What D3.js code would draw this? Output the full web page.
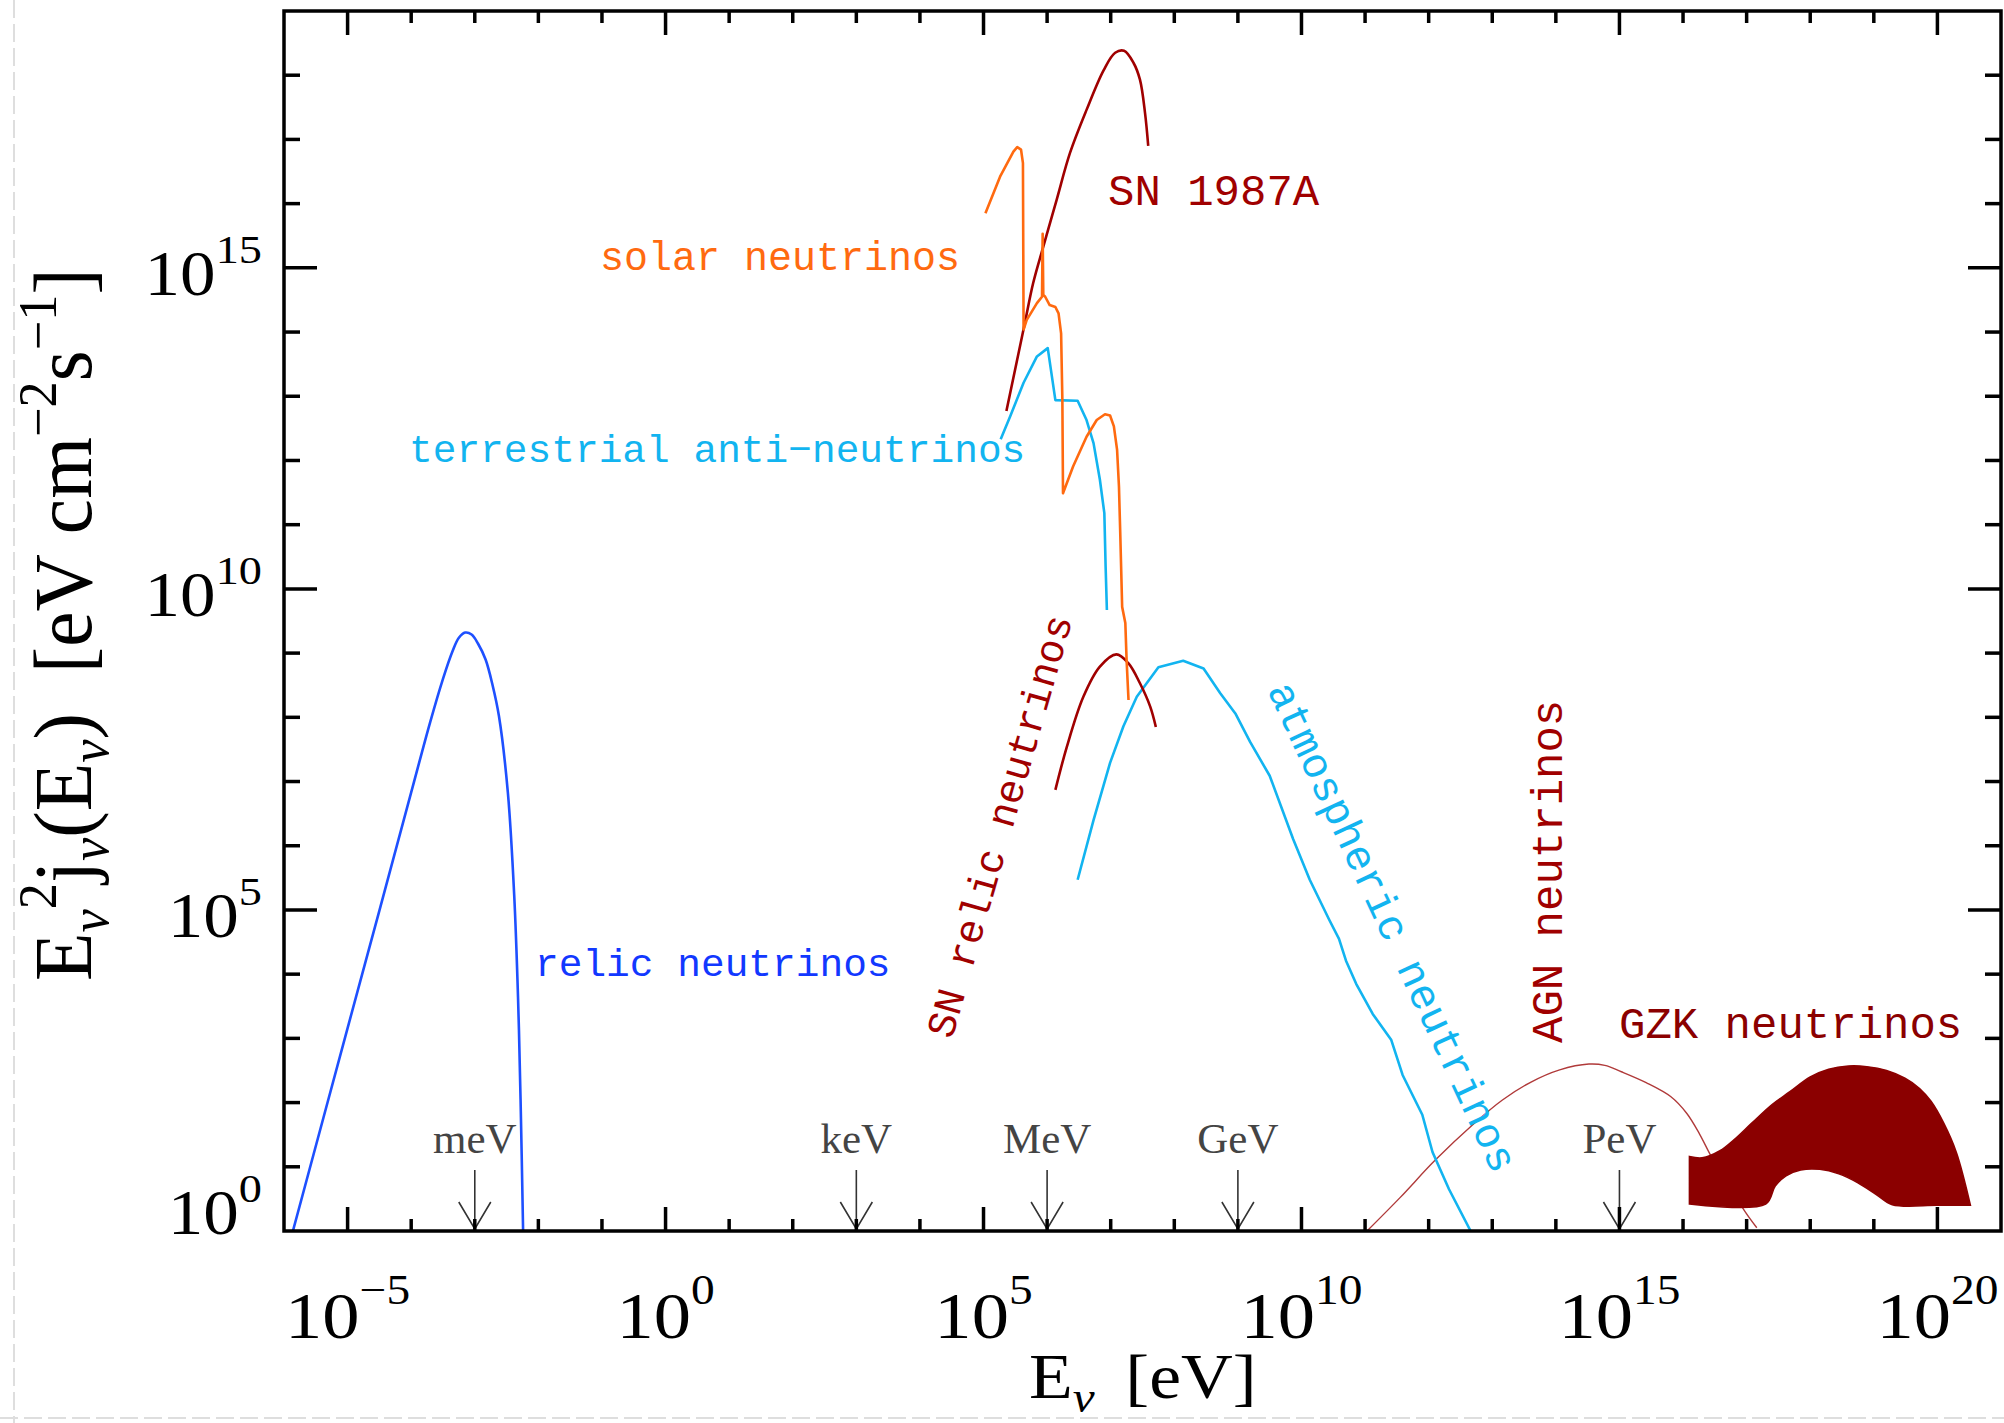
<!DOCTYPE html>
<html><head><meta charset="utf-8">
<script src="https://cdn.jsdelivr.net/npm/d3@7"></script>
<style>html,body{margin:0;padding:0;background:#fff}svg{display:block}</style>
</head><body>
<svg id="chart" width="2004" height="1423"></svg>
<script>
// ---- data: [log10(E_nu / eV), log10(E^2 j / eV cm^-2 s^-1)] ----
const relicNu = [[-5.86,0],[-5.0,3.16],[-4.5,4.99],[-4.0,6.83],[-3.7,7.93],[-3.5,8.6],[-3.35,9.03],[-3.25,9.24],[-3.15,9.32],[-3.05,9.29],[-2.95,9.15],[-2.83,8.90],[-2.72,8.50],[-2.62,8.02],[-2.48,6.83],[-2.38,5.23],[-2.32,3.64],[-2.28,2.05],[-2.24,0]];
const solarNu = [[5.03,15.85],[5.26,16.42],[5.47,16.81],[5.53,16.88],[5.59,16.84],[5.62,16.63],[5.63,14.04],[5.68,14.19],[5.84,14.45],[5.92,14.55],[5.93,15.53],[5.94,14.58],[5.97,14.55],[6.04,14.42],[6.13,14.39],[6.18,14.29],[6.22,13.98],[6.24,12.94],[6.25,11.49],[6.41,11.91],[6.62,12.37],[6.78,12.63],[6.91,12.72],[6.99,12.70],[7.05,12.53],[7.10,12.17],[7.13,11.59],[7.15,10.87],[7.18,9.72],[7.23,9.47],[7.25,8.89],[7.28,8.27]];
const sn1987A = [[5.36,12.77],[5.65,14.14],[5.78,14.76],[5.94,15.33],[6.15,16.06],[6.36,16.79],[6.62,17.46],[6.89,18.08],[7.07,18.35],[7.21,18.38],[7.36,18.19],[7.46,17.93],[7.54,17.41],[7.59,16.90]];
const terrestrialNu = [[5.27,12.33],[5.42,12.69],[5.63,13.21],[5.84,13.62],[6.01,13.75],[6.13,12.94],[6.48,12.93],[6.62,12.63],[6.73,12.27],[6.83,11.70],[6.90,11.18],[6.92,10.35],[6.94,9.67]];
const snRelicNu = [[6.13,6.87],[6.31,7.54],[6.57,8.32],[6.83,8.79],[7.09,8.98],[7.28,8.84],[7.46,8.53],[7.62,8.17],[7.71,7.85]];
const atmosphericNu = [[6.48,5.47],[6.73,6.40],[6.99,7.29],[7.20,7.86],[7.41,8.32],[7.75,8.78],[8.14,8.88],[8.46,8.76],[8.72,8.38],[8.96,8.06],[9.19,7.62],[9.50,7.09],[9.87,6.10],[10.13,5.47],[10.44,4.84],[10.59,4.55],[10.70,4.21],[10.86,3.85],[11.12,3.38],[11.41,2.98],[11.59,2.43],[11.90,1.81],[12.06,1.23],[12.32,0.65],[12.66,0]];
const agnNu = [[11.03,0],[11.55,0.52],[12.10,1.10],[12.71,1.67],[13.16,2.04],[13.61,2.32],[14.06,2.51],[14.52,2.60],[14.77,2.58],[15.03,2.48],[15.42,2.31],[15.81,2.09],[16.06,1.83],[16.26,1.51],[16.45,1.15],[16.71,0.73],[16.97,0.31],[17.16,0.05]];
const gzkUpper = [[16.10,1.16],[16.30,1.14],[16.58,1.25],[16.80,1.42],[17.08,1.68],[17.40,1.97],[17.68,2.17],[18.00,2.40],[18.29,2.52],[18.60,2.57],[18.89,2.56],[19.20,2.50],[19.49,2.38],[19.72,2.22],[19.90,2.02],[20.10,1.68],[20.30,1.22],[20.52,0.40]];
const gzkLower = [[20.52,0.40],[20.00,0.40],[19.29,0.41],[19.05,0.56],[18.75,0.75],[18.45,0.89],[18.15,0.96],[17.85,0.95],[17.62,0.86],[17.45,0.70],[17.30,0.42],[16.10,0.42]];
const unitMarks = ["meV","keV","MeV","GeV","PeV"];
const unitEnergies = [1e-3,1e3,1e6,1e9,1e15];
const xMajorExps = [-5,0,5,10,15,20];
const yMajorExps = [0,5,10,15];

// ---- layout ----
const svg = d3.select("#chart");
const L=284, R=2001, T=11, B=1231;
const x = d3.scaleLog().domain([1e-6,1e21]).range([L,R]);
const y = d3.scaleLog().domain([1,1e19]).range([B,T]);
const P = d => [x(Math.pow(10,d[0])), y(Math.pow(10,d[1]))];
const line = d3.line().x(d=>P(d)[0]).y(d=>P(d)[1]);

// scan artefacts of the original (faint dashed border lines)
svg.append("line").attr("x1",14).attr("x2",14).attr("y1",0).attr("y2",1423)
  .attr("stroke","#dedede").attr("stroke-width",2).attr("stroke-dasharray","18,6");
svg.append("line").attr("x1",0).attr("x2",2004).attr("y1",1418).attr("y2",1418)
  .attr("stroke","#dedede").attr("stroke-width",2).attr("stroke-dasharray","18,6");

svg.append("clipPath").attr("id","clip").append("rect")
  .attr("x",L).attr("y",T).attr("width",R-L).attr("height",B-T);
const g = svg.append("g").attr("clip-path","url(#clip)");

// AGN curve first (it runs behind the GZK band)
g.append("path").datum(agnNu).attr("d", line.curve(d3.curveCatmullRom))
  .attr("fill","none").attr("stroke","#b03a3a").attr("stroke-width",1.4);

// GZK band (smooth upper and lower edges, straight ends)
const smooth = d3.line().x(d=>P(d)[0]).y(d=>P(d)[1]).curve(d3.curveCatmullRom);
const gzkPath = smooth(gzkUpper) + "L" + smooth(gzkLower).slice(1) + "Z";
g.append("path").attr("d", gzkPath)
  .attr("fill","#8b0000").attr("stroke","#8b0000").attr("stroke-width",1.5);

// curves
const curves = [
  {data: atmosphericNu, color:"#12b4f0", w:2.6, curve:d3.curveLinear},
  {data: snRelicNu, color:"#a00000", w:2.6, curve:d3.curveCatmullRom},
  {data: terrestrialNu, color:"#12b4f0", w:2.6, curve:d3.curveLinear},
  {data: sn1987A, color:"#a00000", w:2.6, curve:d3.curveCatmullRom},
  {data: solarNu, color:"#ff6a10", w:2.6, curve:d3.curveLinear},
  {data: relicNu, color:"#1e50ff", w:2.6, curve:d3.curveCatmullRom}
];
curves.forEach(c=>{
  g.append("path").datum(c.data).attr("d", line.curve(c.curve))
   .attr("fill","none").attr("stroke",c.color).attr("stroke-width",c.w)
   .attr("stroke-linejoin","round");
});

// unit arrows
unitMarks.forEach((u,i)=>{
  const ex = x(unitEnergies[i]);
  const ga = svg.append("g").attr("stroke","#333").attr("stroke-width",1.6).attr("fill","none");
  ga.append("line").attr("x1",ex).attr("x2",ex).attr("y1",1170).attr("y2",B-2);
  ga.append("polyline").attr("points",`${ex-16},${B-29} ${ex},${B-2} ${ex+16},${B-29}`);
  svg.append("text").attr("x",ex).attr("y",1153).attr("text-anchor","middle")
    .attr("font-family","Liberation Serif").attr("font-size",43).attr("fill","#444").text(u);
});

// frame and ticks
const fr = svg.append("g").attr("stroke","#000").attr("stroke-width",3.5);
fr.append("rect").attr("x",L).attr("y",T).attr("width",R-L).attr("height",B-T).attr("fill","none");
for(let e=-5;e<=20;e++){
  const xx = x(Math.pow(10,e)); const maj = xMajorExps.includes(e);
  const len = maj?24:12;
  fr.append("line").attr("x1",xx).attr("x2",xx).attr("y1",B).attr("y2",B-len);
  fr.append("line").attr("x1",xx).attr("x2",xx).attr("y1",T).attr("y2",T+len);
}
for(let e=1;e<=18;e++){
  const yy = y(Math.pow(10,e)); const maj = yMajorExps.includes(e);
  const len = maj?33:16;
  fr.append("line").attr("x1",L).attr("x2",L+len).attr("y1",yy).attr("y2",yy);
  fr.append("line").attr("x1",R).attr("x2",R-len).attr("y1",yy).attr("y2",yy);
}

// tick labels (thin serif, slightly widened)
const serif = "Liberation Serif";
const expStr = e => e<0 ? "\u2212"+(-e) : String(e);
xMajorExps.forEach(e=>{
  const t = svg.append("text").attr("transform",`translate(${x(Math.pow(10,e))},1338) scale(1.13,1)`)
    .attr("text-anchor","middle").attr("font-family",serif).attr("font-size",66).attr("fill","#000");
  t.append("tspan").text("10");
  t.append("tspan").attr("dy",-34).attr("font-size",42).text(expStr(e));
});
yMajorExps.forEach(e=>{
  const yy = e===0 ? 1234 : y(Math.pow(10,e))+27;
  const t = svg.append("text").attr("transform",`translate(262,${yy}) scale(1.13,1)`)
    .attr("text-anchor","end").attr("font-family",serif).attr("font-size",63).attr("fill","#000");
  t.append("tspan").text("10");
  t.append("tspan").attr("dy",-32).attr("font-size",41).text(expStr(e));
});

// axis titles
const xt = svg.append("text").attr("transform","translate(1029,1398) scale(1.12,1)")
  .attr("font-family",serif).attr("font-size",64).attr("fill","#000");
xt.append("tspan").text("E");
xt.append("tspan").attr("dy",14).attr("font-size",44).attr("font-style","italic").text("\u03bd");
xt.append("tspan").attr("x",86).attr("dy",-14).text("[eV]");

const yt = svg.append("text").attr("transform","translate(91,981) rotate(-90)")
  .attr("font-family",serif).attr("font-size",82).attr("fill","#000");
yt.append("tspan").text("E");
yt.append("tspan").attr("dy",17).attr("font-size",54).attr("font-style","italic").text("\u03bd");
yt.append("tspan").attr("dy",-52).attr("font-size",54).text("2");
yt.append("tspan").attr("dy",35).text("j");
yt.append("tspan").attr("dy",17).attr("font-size",54).attr("font-style","italic").text("\u03bd");
yt.append("tspan").attr("dy",-17).text("(E");
yt.append("tspan").attr("dy",17).attr("font-size",54).attr("font-style","italic").text("\u03bd");
yt.append("tspan").attr("dy",-17).text(")\u00a0\u00a0[eV\u00a0cm");
yt.append("tspan").attr("dy",-35).attr("font-size",54).text("\u22122");
yt.append("tspan").attr("dy",35).text("s");
yt.append("tspan").attr("dy",-35).attr("font-size",54).text("\u22121");
yt.append("tspan").attr("dy",35).text("]");
const ylen = yt.node().getComputedTextLength();
yt.attr("transform",`translate(91,981) rotate(-90) scale(${713/ylen},1)`);

// curve labels
const mono = "Liberation Mono";
const labels = [
  {t:"solar neutrinos", c:"#ff6a10", s:40, x:600, y:270, r:0},
  {t:"SN 1987A", c:"#a00000", s:44, x:1108, y:205, r:0},
  {t:"terrestrial anti\u2212neutrinos", c:"#12b4f0", s:39.5, x:409, y:462, r:0},
  {t:"relic neutrinos", c:"#1238ff", s:39.5, x:535, y:976, r:0},
  {t:"GZK neutrinos", c:"#8b0000", s:44, x:1619, y:1038, r:0},
  {t:"AGN neutrinos", c:"#a00000", s:44, x:1562, y:1043, r:-90},
  {t:"atmospheric neutrinos", c:"#12b4f0", s:42.5, x:1267, y:690, r:65},
  {t:"SN relic neutrinos", c:"#a00000", s:40.5, x:952, y:1040, r:-74}
];
labels.forEach(l=>{
  svg.append("text").attr("transform",`translate(${l.x},${l.y}) rotate(${l.r})`)
    .attr("font-family",mono).attr("font-size",l.s).attr("fill",l.c).text(l.t);
});
</script>
</body></html>
